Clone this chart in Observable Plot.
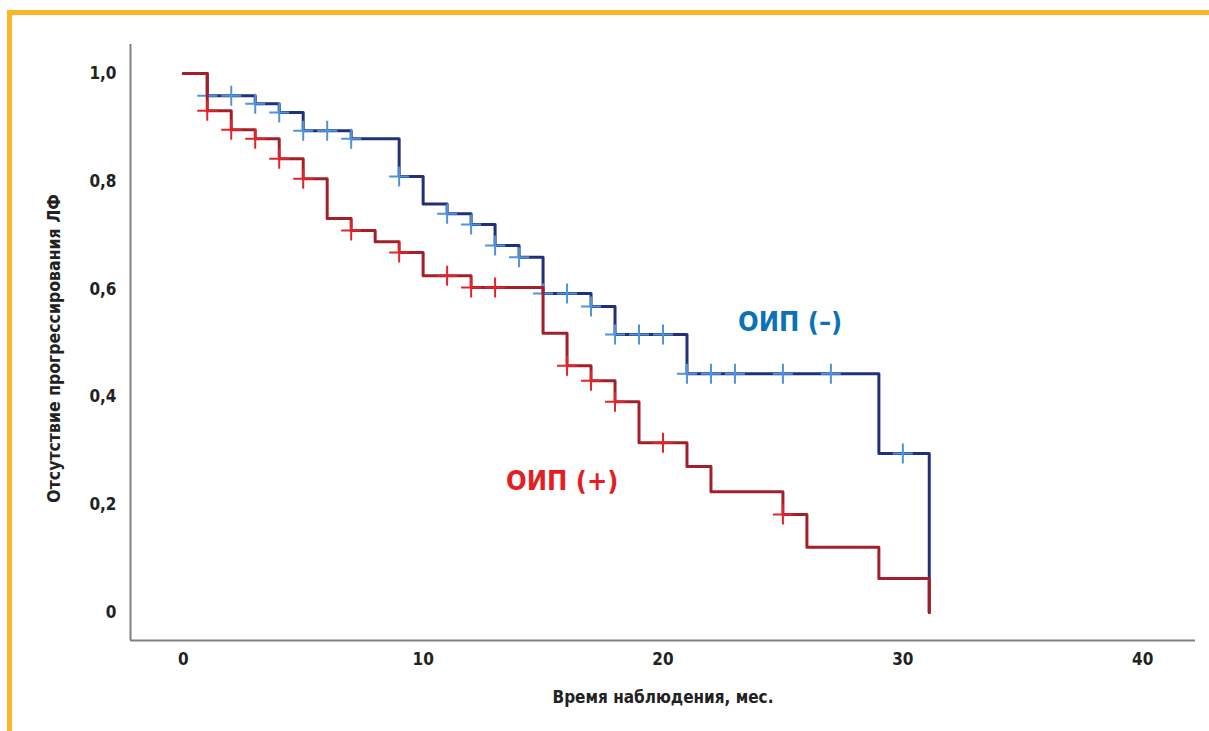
<!DOCTYPE html>
<html>
<head>
<meta charset="utf-8">
<script src="https://cdn.jsdelivr.net/npm/d3@7"></script>
<script src="https://cdn.jsdelivr.net/npm/@observablehq/plot@0.6"></script>
<style>
  html, body { margin: 0; padding: 0; background: #fff; }
  #wrap { position: relative; width: 1209px; height: 731px; overflow: hidden; }
  .bar { position: absolute; background: #fbb52b; }
  #chart { position: absolute; left: 0; top: 0; }
</style>
</head>
<body>
<div id="wrap">
  <div class="bar" style="left:7px; top:10px; width:1202px; height:5px;"></div>
  <div class="bar" style="left:7px; top:10px; width:5px; height:721px;"></div>
  <div id="chart"></div>
</div>
<script>
// Group ОИП (+) — Kaplan–Meier steps
const posTimes = [0, 1, 2, 3, 4, 5, 6, 7, 8, 9, 10, 12, 15, 16, 17, 18, 19, 21, 22, 25, 26, 29, 31.1];
const posSurv  = [1.0, 0.931, 0.896, 0.879, 0.842, 0.805, 0.731, 0.709, 0.688, 0.668, 0.625, 0.603, 0.518, 0.458, 0.430, 0.391, 0.315, 0.271, 0.224, 0.182, 0.121, 0.063, 0.0];
const posCensored = [1, 2, 3, 4, 5, 7, 9, 11, 12, 13, 16, 17, 18, 20, 25];

// Group ОИП (–)
const negTimes = [0, 1, 3, 4, 5, 7, 9, 10, 11, 12, 13, 14, 15, 17, 18, 21, 29, 31.1];
const negSurv  = [1.0, 0.959, 0.944, 0.928, 0.894, 0.879, 0.809, 0.758, 0.740, 0.720, 0.681, 0.659, 0.592, 0.568, 0.516, 0.443, 0.295, 0.0];
const negCensored = [1, 2, 3, 4, 5, 6, 7, 9, 11, 12, 13, 14, 15, 16, 17, 18, 19, 20, 21, 22, 23, 25, 27, 30];

const yTicks = [0, 0.2, 0.4, 0.6, 0.8, 1.0];
const yTickLabels = ["0", "0,2", "0,4", "0,6", "0,8", "1,0"];
const xTicks = [0, 10, 20, 30, 40];
const xDomain = [-2.2, 42.2];
const yDomain = [-0.052, 1.054];

const posSteps = posTimes.map((t, i) => ({t, s: posSurv[i]}));
const negSteps = negTimes.map((t, i) => ({t, s: negSurv[i]}));
function survAt(times, surv, t) {
  let v = surv[0];
  for (let i = 0; i < times.length; i++) if (times[i] <= t) v = surv[i];
  return v;
}
const posCens = posCensored.map(t => ({t, s: survAt(posTimes, posSurv, t)}));
const negCens = negCensored.map(t => ({t, s: survAt(negTimes, negSurv, t)}));

const FONT = "'Liberation Sans Narrow', 'DejaVu Sans Condensed', 'Arial Narrow', sans-serif";

const plot = Plot.plot({
  width: 1209,
  height: 731,
  marginLeft: 130,
  marginRight: 14,
  marginTop: 44,
  marginBottom: 91,
  style: { fontFamily: FONT, background: "transparent", overflow: "visible" },
  x: { domain: xDomain, axis: null },
  y: { domain: yDomain, axis: null },
  marks: [
    Plot.ruleX([xDomain[0]], { stroke: "#808080", strokeWidth: 2 }),
    Plot.ruleY([yDomain[0]], { stroke: "#808080", strokeWidth: 2 }),
    Plot.axisY(yTicks, {
      anchor: "left", tickSize: 0, tickPadding: 14,
      tickFormat: (d) => yTickLabels[yTicks.indexOf(d)],
      fontSize: 17, fontWeight: "bold", fill: "#222",
      label: null
    }),
    Plot.axisX(xTicks, {
      anchor: "bottom", tickSize: 0, tickPadding: 12,
      fontSize: 17, fontWeight: "bold", fill: "#222",
      label: null
    }),
    Plot.text(["Время наблюдения, мес."], {
      frameAnchor: "bottom", dy: 62, fontSize: 17, fontWeight: "bold", fill: "#222"
    }),
    Plot.text(["Отсутствие прогрессирования ЛФ"], {
      x: xDomain[0], y: 0.49, dx: -76, rotate: -90, fontSize: 17.5, fontWeight: "bold", fill: "#222"
    }),
    // ОИП (–)
    Plot.line(negSteps, { x: "t", y: "s", curve: "step-after", stroke: "#22307a", strokeWidth: 3 }),
    Plot.dot(negCens, { x: "t", y: "s", symbol: "plus", r: 6.5, stroke: "#4f94da", strokeWidth: 2 }),
    // ОИП (+)
    Plot.line(posSteps, { x: "t", y: "s", curve: "step-after", stroke: "#a3202a", strokeWidth: 3 }),
    Plot.dot(posCens, { x: "t", y: "s", symbol: "plus", r: 6.5, stroke: "#e3242b", strokeWidth: 2 }),
    Plot.text(["ОИП (–)"], { x: 25.3, y: 0.538, fontSize: 27, fontWeight: "bold", fill: "#0a72b8" }),
    Plot.text(["ОИП (+)"], { x: 15.8, y: 0.243, fontSize: 27, fontWeight: "bold", fill: "#e31e24" })
  ]
});
document.getElementById("chart").appendChild(plot);
</script>
</body>
</html>
